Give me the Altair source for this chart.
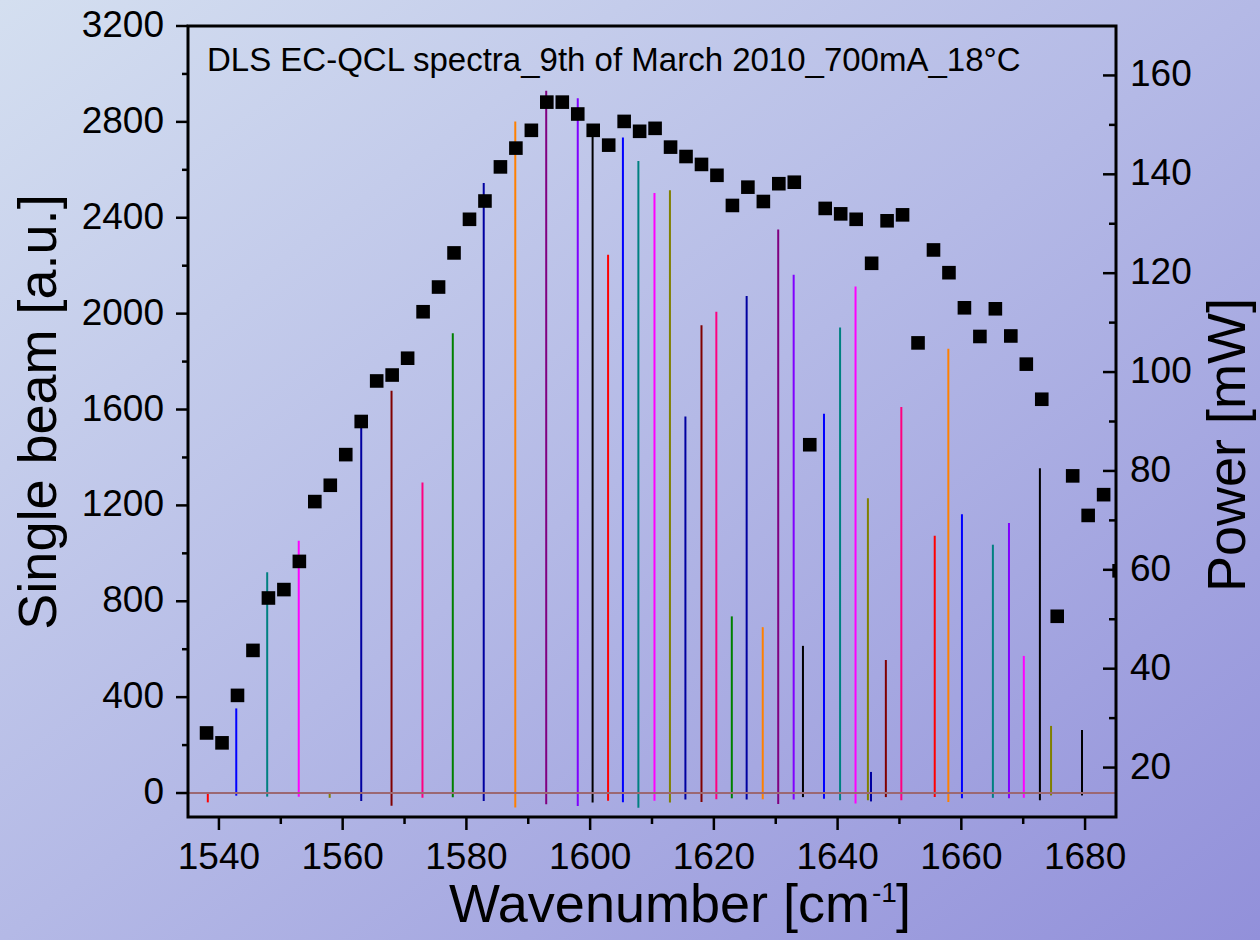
import altair as alt
import pandas as pd

FONT = "Liberation Sans"
W, H = 928, 791

# ---------------- data ----------------
# Power squares (right axis, mW)
power_wn = [1538.0, 1540.5, 1543.0, 1545.5, 1548.0, 1550.5, 1553.0, 1555.5, 1558.0, 1560.5,
            1563.0, 1565.5, 1568.0, 1570.5, 1573.0, 1575.5, 1578.0, 1580.5, 1583.0, 1585.5,
            1588.0, 1590.5, 1593.0, 1595.5, 1598.0, 1600.5, 1603.0, 1605.5, 1608.0, 1610.5,
            1613.0, 1615.5, 1618.0, 1620.5, 1623.0, 1625.5, 1628.0, 1630.5, 1633.0, 1635.5,
            1638.0, 1640.5, 1643.0, 1645.5, 1648.0, 1650.5, 1653.0, 1655.5, 1658.0, 1660.5,
            1663.0, 1665.5, 1668.0, 1670.5, 1673.0, 1675.5, 1678.0, 1680.5, 1683.0, 1685.5]
power_mw = [27.0, 25.0, 34.6, 43.7, 54.3, 56.0, 61.7, 73.8, 77.1, 83.3,
            90.0, 98.2, 99.4, 102.8, 112.2, 117.2, 124.1, 130.9, 134.6, 141.5,
            145.3, 148.9, 154.6, 154.6, 152.2, 148.9, 145.9, 150.7, 148.7, 149.3,
            145.5, 143.6, 142.0, 139.8, 133.7, 137.4, 134.5, 138.1, 138.4, 85.3,
            133.1, 132.0, 130.9, 122.0, 130.6, 131.8, 105.9, 124.7, 120.1, 113.0,
            107.2, 112.8, 107.3, 101.6, 94.5, 50.6, 79.0, 71.0, 75.2, 59.8]

# Spectral peaks (left axis, a.u.)
peak_wn = [1538.2, 1542.8, 1547.8, 1552.9, 1557.9, 1563.0, 1567.9, 1572.9, 1577.8, 1582.8,
           1587.9, 1592.9, 1598.0, 1600.4, 1602.9, 1605.3, 1607.8, 1610.4, 1612.9, 1615.4,
           1618.0, 1620.4, 1622.9, 1625.3, 1627.9, 1630.4, 1632.9, 1634.4, 1637.8, 1640.4,
           1642.9, 1644.9, 1645.4, 1647.8, 1650.3, 1655.7, 1657.9, 1660.1, 1665.1, 1667.7,
           1670.1, 1672.7, 1674.5, 1679.5]
peak_height = [0, 353, 921, 1052, 0, 1550, 1678, 1295, 1918, 2545,
               2802, 2930, 2899, 2740, 2246, 2735, 2637, 2503, 2515, 1571,
               1952, 2008, 737, 2074, 692, 2351, 2162, 614, 1582, 1942,
               2113, 1230, 88, 555, 1610, 1073, 1853, 1163, 1036, 1127,
               572, 1355, 280, 263]
peak_dip = [39, 11, 15, 15, 20, 33, 53, 20, 18, 33,
            60, 47, 54, 40, 32, 38, 61, 32, 40, 27,
            37, 26, 22, 27, 26, 46, 27, 17, 24, 30,
            44, 30, 35, 17, 30, 17, 37, 22, 20, 22,
            20, 30, 10, 10]
peak_color = ["#FF0000", "#0000FF", "#008080", "#FF00FF", "#808000", "#0000A0", "#800000", "#FF0080", "#008000", "#0000A0",
              "#FF8000", "#800080", "#8000FF", "#000000", "#FF0000", "#0000FF", "#008080", "#FF00FF", "#808000", "#0000A0",
              "#800000", "#FF0080", "#008000", "#0000A0", "#FF8000", "#800080", "#8000FF", "#000000", "#0000FF", "#008080",
              "#FF00FF", "#808000", "#0000A0", "#800000", "#FF0080", "#FF0000", "#FF8000", "#0000FF", "#008080", "#8000FF",
              "#FF00FF", "#000000", "#808000", "#000000"]

# Axis ticks / labels
x_major = [1540, 1560, 1580, 1600, 1620, 1640, 1660, 1680]
x_minor = [1550, 1570, 1590, 1610, 1630, 1650, 1670]
left_major = [0, 400, 800, 1200, 1600, 2000, 2400, 2800, 3200]
left_minor = [200, 600, 1000, 1400, 1800, 2200, 2600, 3000]
right_major = [20, 40, 60, 80, 100, 120, 140, 160]
right_minor = [30, 50, 70, 90, 110, 130, 150]
title_text = "DLS EC-QCL spectra_9th of March 2010_700mA_18°C"
x_title_main = "Wavenumber [cm"
x_title_sup = "-1"
x_title_end = "]"
yl_title = "Single beam [a.u.]"
yr_title = "Power [mW]"

peaks_df = pd.DataFrame({"wn": peak_wn, "hi": peak_height,
                         "lo": [-d for d in peak_dip], "col": peak_color})
power_df = pd.DataFrame({"wn": power_wn, "p": power_mw})

xscale = alt.Scale(domain=[1535, 1685], nice=False, zero=False)
yl = alt.Scale(domain=[-100, 3200], nice=False, zero=False)
yr = alt.Scale(domain=[10, 170], nice=False, zero=False)

LBL = 37     # tick label size
TTL = 54     # axis title size
TW = 2.5     # tick width


def df(name, vals):
    return pd.DataFrame({name: vals})


gradient = alt.LinearGradient(
    gradient="linear",
    stops=[alt.GradientStop(color="#d4dff0", offset=0),
           alt.GradientStop(color="#b4b9e6", offset=0.5),
           alt.GradientStop(color="#9290da", offset=1)],
    x1=0, y1=0, x2=1, y2=1)

one = df("a", [0])

bg = alt.Chart(one).mark_rect(color=gradient).encode(
    x=alt.value(-188), x2=alt.value(1072), y=alt.value(-26), y2=alt.value(914))

# ---- left-scale layer ----
peaks = alt.Chart(peaks_df).mark_rule(strokeWidth=2).encode(
    x=alt.X("wn:Q", scale=xscale, axis=None),
    y=alt.Y("lo:Q", scale=yl, axis=None),
    y2="hi:Q",
    color=alt.Color("col:N", scale=None),
)
baseline = alt.Chart(df("z", [0])).mark_rule(color="#9c6872", strokeWidth=2).encode(
    y=alt.Y("z:Q", scale=yl, axis=None))
l_maj = alt.Chart(df("v", left_major)).mark_rule(color="black", strokeWidth=TW).encode(
    y=alt.Y("v:Q", scale=yl, axis=None), x=alt.value(-12), x2=alt.value(0))
l_min = alt.Chart(df("v", left_minor)).mark_rule(color="black", strokeWidth=TW).encode(
    y=alt.Y("v:Q", scale=yl, axis=None), x=alt.value(-6), x2=alt.value(0))
l_lab = alt.Chart(df("v", left_major)).mark_text(
    align="right", baseline="middle", font=FONT, fontSize=LBL, color="black").encode(
    y=alt.Y("v:Q", scale=yl, axis=None), x=alt.value(-24), text=alt.Text("v:Q", format="d"))
x_maj = alt.Chart(df("v", x_major)).mark_rule(color="black", strokeWidth=TW).encode(
    x=alt.X("v:Q", scale=xscale, axis=None), y=alt.value(H), y2=alt.value(H + 13))
x_min = alt.Chart(df("v", x_minor)).mark_rule(color="black", strokeWidth=TW).encode(
    x=alt.X("v:Q", scale=xscale, axis=None), y=alt.value(H), y2=alt.value(H + 7))
x_lab = alt.Chart(df("v", x_major)).mark_text(
    align="center", baseline="middle", font=FONT, fontSize=LBL, color="black").encode(
    x=alt.X("v:Q", scale=xscale, axis=None), y=alt.value(H + 41), text=alt.Text("v:Q", format="d"))
left = alt.layer(peaks, baseline, l_maj, l_min, l_lab, x_maj, x_min, x_lab)

# ---- right-scale layer ----
squares = alt.Chart(power_df).mark_square(size=185, color="black", opacity=1, clip=True).encode(
    x=alt.X("wn:Q", scale=xscale, axis=None),
    y=alt.Y("p:Q", scale=yr, axis=None),
)
r_maj = alt.Chart(df("v", right_major)).mark_rule(color="black", strokeWidth=TW).encode(
    y=alt.Y("v:Q", scale=yr, axis=None), x=alt.value(W - 13), x2=alt.value(W))
r_min = alt.Chart(df("v", right_minor)).mark_rule(color="black", strokeWidth=TW).encode(
    y=alt.Y("v:Q", scale=yr, axis=None), x=alt.value(W - 7), x2=alt.value(W))
r_lab = alt.Chart(df("v", right_major)).mark_text(
    align="left", baseline="middle", font=FONT, fontSize=LBL, color="black").encode(
    y=alt.Y("v:Q", scale=yr, axis=None), x=alt.value(W + 14), text=alt.Text("v:Q", format="d"))
right = alt.layer(squares, r_maj, r_min, r_lab)

frame = alt.Chart(one).mark_rect(filled=False, stroke="black", strokeWidth=3).encode(
    x=alt.value(0), x2=alt.value(W), y=alt.value(0), y2=alt.value(H))


def label(text, x, y, size, align="center", angle=0, baseline="alphabetic"):
    kw = dict(align=align, baseline=baseline, font=FONT, fontSize=size, color="black")
    if angle:
        kw["angle"] = angle
    return alt.Chart(df("t", [text])).mark_text(**kw).encode(
        x=alt.value(x), y=alt.value(y), text="t:N")


title = label(title_text, 19, 45, 33, align="left")
xt1 = label(x_title_main, 682, 896, TTL, align="right")
xt2 = label(x_title_sup, 684, 876, 28, align="left")
xt3 = label(x_title_end, 708, 896, TTL, align="left")
ylt = label(yl_title, -132, 386, TTL, angle=270)
yrt = label(yr_title, 1057, 419, TTL, angle=270)

chart = alt.layer(bg, left, right, frame, title, xt1, xt2, xt3, ylt, yrt).resolve_scale(
    y="independent").properties(
    width=W, height=H,
    autosize=alt.AutoSizeParams(type="none"),
    padding={"left": 188, "top": 26, "right": 144, "bottom": 123},
    background="#b4b9e6",
).configure_view(stroke=None)

chart.save("out.html", embed_options={"renderer": "svg", "actions": False})
